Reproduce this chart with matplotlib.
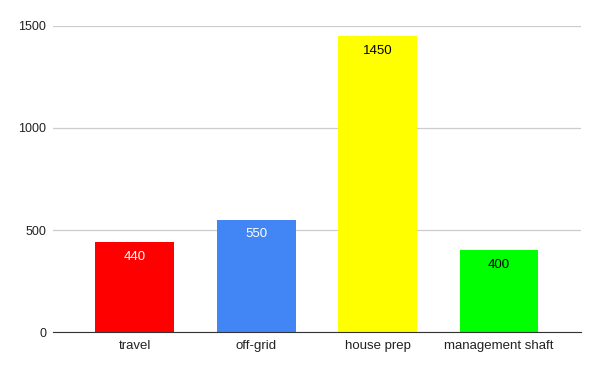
import matplotlib
matplotlib.use("Agg")
import matplotlib.pyplot as plt

categories = ["travel", "off-grid", "house prep", "management shaft"]
values = [440, 550, 1450, 400]
colors = ["#ff0000", "#4285f4", "#ffff00", "#00ff00"]
label_colors = ["white", "white", "black", "black"]
yticks = [0, 500, 1000, 1500]

plt.rcParams['font.family'] = ['Liberation Sans', 'DejaVu Sans']

fig = plt.figure(figsize=(6, 3.71), dpi=100)
ax = fig.add_axes([0.0883, 0.105, 0.88, 0.825])

x = range(len(categories))
bars = ax.bar(x, values, width=0.65, color=colors, zorder=3)

for b, v, c in zip(bars, values, label_colors):
    ax.annotate(str(v), (b.get_x() + b.get_width() / 2, v),
                xytext=(0, -6), textcoords="offset points",
                ha="center", va="top", fontsize=9.5, color=c, zorder=4)

ax.set_xlim(-0.675, len(categories) - 0.325)
ax.set_ylim(0, 1500)
ax.set_yticks(yticks)
ax.set_xticks(list(x))
ax.set_xticklabels(categories)
ax.tick_params(length=0, labelsize=9.5, colors="#222222")
ax.tick_params(axis="y", pad=5, labelsize=9)
ax.tick_params(axis="x", pad=6)

ax.grid(axis="y", color="#cccccc", linewidth=0.9, zorder=0)
for s in ["top", "right", "left"]:
    ax.spines[s].set_visible(False)
ax.spines["bottom"].set_color("#333333")
ax.spines["bottom"].set_zorder(5)

fig.savefig("out.png", dpi=100)
